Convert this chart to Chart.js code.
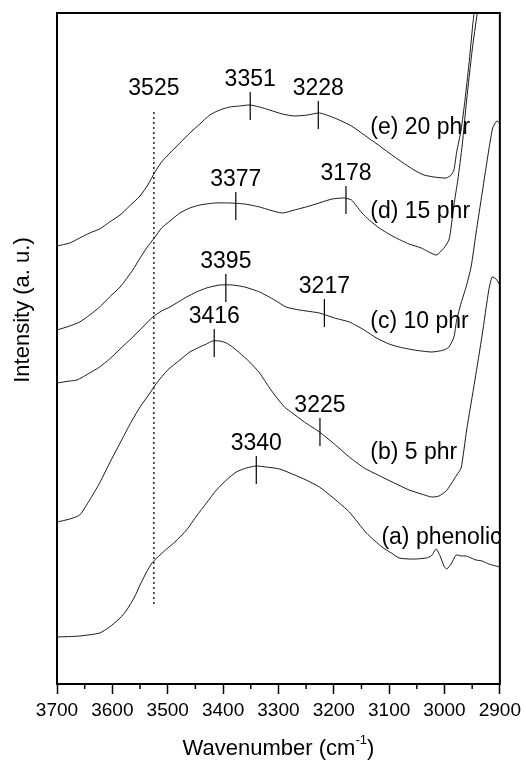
<!DOCTYPE html>
<html>
<head>
<meta charset="utf-8">
<script src="https://cdn.jsdelivr.net/npm/chart.js@4.4.1/dist/chart.umd.min.js"></script>
<style>
  html, body { margin: 0; padding: 0; background: #fff; }
</style>
</head>
<body>
<canvas id="c" width="526" height="761"></canvas>
<script>
// FTIR spectra, hydroxyl region. x = wavenumber (cm-1), y = intensity (a.u., traces offset)
const wnA  = [3700,3659,3623,3605,3586,3574,3560,3550,3541,3532,3527,3514,3502,3487,3466,3448,3430,3412,3394,3376,3358,3340,3322,3298,3275,3250,3226,3203,3190,3172,3141,3113,3096,3082,3064,3051,3033,3024,3015,3008,3001,2996,2988,2979,2970,2961,2952,2943,2932,2920,2907,2900];
const intA = [47,48,51,57,66,74,87,99,109,118,122,129,135,142,154,168,181,194,204,212,216,218,217,215,210,204,197,187,181,172,151,137,131,126,125,125,126,128,135,128,118,115,120,129,128,128,126,124,123,120,118,117];

const wnB  = [3700,3677,3659,3641,3623,3605,3586,3569,3550,3532,3520,3500,3478,3460,3442,3430,3419,3406,3394,3383,3370,3352,3334,3316,3304,3289,3275,3253,3226,3199,3172,3145,3113,3087,3064,3042,3023,3010,2997,2987,2978,2970,2960,2945,2932,2920,2914,2907,2900];
const intB = [162,165,169,184,201,221,241,259,277,291,301,314,324,332,337,340,343,343,341,337,331,322,311,296,287,277,271,262,252,240,227,216,207,200,194,190,187,188,193,201,209,216,254,304,349,394,407,405,399];

const wnC  = [3700,3677,3664,3641,3623,3605,3586,3563,3545,3527,3511,3496,3478,3466,3448,3430,3406,3383,3361,3334,3307,3286,3262,3226,3199,3172,3145,3123,3100,3082,3055,3023,3001,2992,2983,2978,2970,2961,2952,2943,2932,2920,2913,2907,2904,2900];
const intC = [301,303,304,311,317,325,335,347,357,367,373,377,383,387,392,396,399,399,397,392,384,377,374,371,366,362,354,346,340,337,334,332,334,337,347,364,381,397,417,451,491,534,556,562,563,560];

const wnD  = [3700,3677,3659,3641,3623,3605,3586,3563,3550,3538,3523,3511,3496,3478,3460,3442,3415,3388,3361,3334,3316,3293,3271,3244,3221,3203,3181,3168,3159,3149,3136,3118,3091,3064,3042,3015,3001,2992,2988,2983,2976,2968,2960,2950,2941,2938];
const intD = [354,358,362,369,377,387,397,414,426,436,447,456,463,471,476,479,481,481,480,477,474,471,474,478,482,485,486,484,478,471,464,456,447,440,436,429,436,444,457,479,504,539,584,634,671,689];

const wnE  = [3700,3677,3659,3641,3623,3605,3586,3569,3550,3536,3523,3511,3496,3478,3460,3442,3424,3406,3388,3370,3352,3334,3316,3293,3271,3248,3226,3208,3190,3168,3145,3122,3100,3077,3055,3037,3019,2997,2988,2983,2978,2970,2963,2956,2949,2943];
const intE = [438,441,446,451,455,462,469,478,488,499,512,522,531,541,551,560,569,574,577,578,579,577,574,570,568,569,571,568,564,558,549,540,531,522,514,509,507,506,509,514,532,554,584,619,659,689];

const seriesNames = ['(a) phenolic', '(b) 5 phr', '(c) 10 phr', '(d) 15 phr', '(e) 20 phr'];
const nameWn  = [3114, 3134, 3134, 3134, 3134];
const nameInt = [146, 231, 362, 472, 556];

// marked band positions and where the marks sit on each trace
const peakWn  = [3340, 3416, 3225, 3395, 3217, 3377, 3178, 3351, 3228];
const peakInt = [214, 341, 252, 396, 371, 478, 484, 578, 569];

// dotted reference line
const refWn = 3525;
const refInt = [80, 572];

const minorTicks = [3650, 3550, 3450, 3350, 3250, 3150, 3050, 2950];

const FONT = '"Liberation Sans", Arial, Helvetica, sans-serif';

const toXY = (xs, ys) => xs.map((v, i) => ({ x: v, y: ys[i] }));
const trace = (xs, ys) => ({
  data: toXY(xs, ys),
  borderColor: '#1a1a1a',
  borderWidth: 1,
  pointRadius: 0,
  tension: 0.2,
  fill: false
});

const decor = {
  id: 'decor',
  afterDatasetsDraw(chart) {
    const { ctx, chartArea: a, scales: { x, y } } = chart;
    ctx.save();
    ctx.strokeStyle = '#000';
    ctx.fillStyle = '#000';

    // frame
    ctx.lineWidth = 2;
    ctx.strokeRect(a.left, a.top, a.right - a.left, a.bottom - a.top);

    // minor ticks on the wavenumber axis
    ctx.lineWidth = 1.5;
    minorTicks.forEach(v => {
      const px = x.getPixelForValue(v);
      ctx.beginPath();
      ctx.moveTo(px, a.bottom);
      ctx.lineTo(px, a.bottom + 5);
      ctx.stroke();
    });

    // peak marks with labels
    ctx.lineWidth = 1.2;
    ctx.font = '23px ' + FONT;
    ctx.textAlign = 'center';
    ctx.textBaseline = 'alphabetic';
    peakWn.forEach((w, i) => {
      const px = x.getPixelForValue(w);
      const py = y.getPixelForValue(peakInt[i]);
      ctx.beginPath();
      ctx.moveTo(px, py - 14);
      ctx.lineTo(px, py + 14);
      ctx.stroke();
      ctx.fillText(String(w), px, py - 20);
    });

    // label over the dotted line
    ctx.fillText(String(refWn), x.getPixelForValue(refWn), y.getPixelForValue(refInt[1]) - 17);

    // trace names
    ctx.textAlign = 'left';
    ctx.textBaseline = 'middle';
    seriesNames.forEach((s, i) => {
      ctx.fillText(s, x.getPixelForValue(nameWn[i]), y.getPixelForValue(nameInt[i]));
    });
    ctx.restore();
  },
  afterDraw(chart) {
    const { ctx, chartArea: a } = chart;
    ctx.save();
    ctx.fillStyle = '#000';

    // x title with superscript
    const big = '22px ' + FONT, small = '13px ' + FONT;
    const p1 = 'Wavenumber (cm', sup = '-1', p2 = ')';
    ctx.font = big;
    const w1 = ctx.measureText(p1).width, w3 = ctx.measureText(p2).width;
    ctx.font = small;
    const w2 = ctx.measureText(sup).width;
    let sx = (a.left + a.right) / 2 - (w1 + w2 + w3) / 2;
    const base = 755;
    ctx.textBaseline = 'alphabetic';
    ctx.textAlign = 'left';
    ctx.font = big;
    ctx.fillText(p1, sx, base);
    sx += w1;
    ctx.font = small;
    ctx.fillText(sup, sx, base - 11);
    sx += w2;
    ctx.font = big;
    ctx.fillText(p2, sx, base);

    // y title
    ctx.translate(23, 310);
    ctx.rotate(-Math.PI / 2);
    ctx.textAlign = 'center';
    ctx.textBaseline = 'middle';
    ctx.fillText('Intensity (a. u.)', 0, 0);
    ctx.restore();
  }
};

new Chart(document.getElementById('c').getContext('2d'), {
  type: 'line',
  data: {
    datasets: [
      trace(wnA, intA),
      trace(wnB, intB),
      trace(wnC, intC),
      trace(wnD, intD),
      trace(wnE, intE),
      {
        data: toXY([refWn, refWn], refInt),
        borderColor: '#000',
        borderWidth: 1.3,
        borderDash: [2, 3],
        pointRadius: 0
      }
    ]
  },
  options: {
    responsive: false,
    animation: false,
    layout: { padding: { top: 13, right: 25, left: 0, bottom: 0 } },
    plugins: {
      legend: { display: false },
      tooltip: { enabled: false }
    },
    scales: {
      x: {
        type: 'linear',
        min: 2900,
        max: 3700,
        reverse: true,
        afterFit: s => { s.height = 77; },
        border: { display: false },
        grid: {
          drawOnChartArea: false,
          drawTicks: true,
          tickLength: 10,
          tickColor: '#000',
          tickWidth: 1.5
        },
        ticks: {
          stepSize: 100,
          autoSkip: false,
          maxRotation: 0,
          padding: 5,
          color: '#000',
          font: { family: FONT, size: 19 },
          callback: v => String(v)
        }
      },
      y: {
        type: 'linear',
        min: 0,
        max: 671,
        afterFit: s => { s.width = 57; },
        border: { display: false },
        grid: { display: false },
        ticks: { display: false }
      }
    }
  },
  plugins: [decor]
});
</script>
</body>
</html>
